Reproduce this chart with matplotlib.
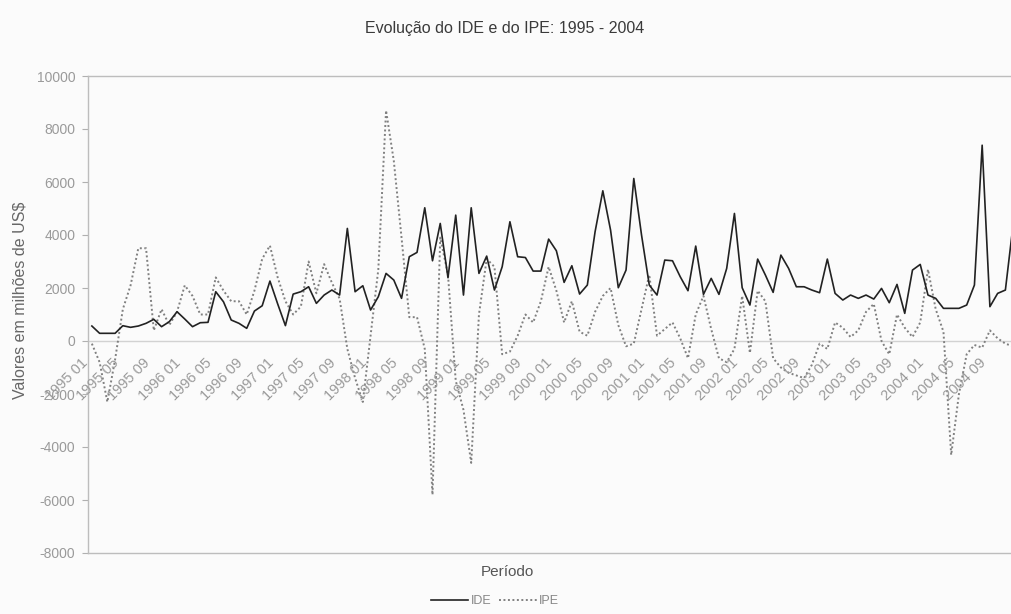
import matplotlib
matplotlib.use("Agg")
import matplotlib.pyplot as plt

years = list(range(1995, 2005))
months = ["01", "02", "03", "04", "05", "06", "07", "08", "09", "10", "11", "12"]
categories = [f"{y} {m}" for y in years for m in months]

ide = [565, 290, 290, 290, 577, 516, 565, 667, 818, 540,
       728, 1105, 829, 540, 690, 704, 1860, 1480, 792, 667,
       478, 1131, 1330, 2262, 1400, 580, 1770, 1860, 2047, 1420,
       1734, 1923, 1734, 4248, 1860, 2085, 1169, 1671, 2551, 2300,
       1609, 3180, 3343, 5027, 3028, 4436, 2388, 4750, 1734, 5027,
       2551, 3204, 1923, 2802, 4500, 3180, 3150, 2639, 2639, 3845,
       3405, 2212, 2840, 1772, 2111, 4122, 5668, 4185, 2010, 2677,
       6133, 4000, 2111, 1734, 3054, 3028, 2425, 1897, 3582, 1759,
       2363, 1759, 2739, 4813, 2010, 1357, 3091, 2488, 1835, 3242,
       2739, 2047, 2047, 1923, 1822, 3091, 1797, 1546, 1734, 1609,
       1734, 1583, 1985, 1445, 2136, 1043, 2677, 2890, 1734, 1609,
       1232, 1232, 1232, 1357, 2111, 7389, 1295, 1797, 1923, 4400]

ipe = [-100, -800, -2300, -700, 1200, 2100, 3500, 3500, 400, 1200,
       600, 1100, 2100, 1700, 1000, 1000, 2400, 1900, 1500, 1500,
       1000, 1900, 3100, 3600, 2400, 1500, 1000, 1300, 3000, 1800,
       2900, 2200, 1600, -300, -1400, -2300, 200, 2700, 8700, 6800,
       3900, 900, 900, -300, -5800, 3900, 2500, -1500, -2600, -4600,
       1000, 3100, 2800, -500, -400, 200, 1000, 700, 1500, 2800,
       1900, 700, 1500, 350, 200, 1100, 1700, 2000, 600, -200,
       -100, 1200, 2500, 200, 450, 700, 100, -650, 1000, 1700,
       450, -650, -800, -300, 1700, -450, 1900, 1500, -650, -1000,
       -1200, -1300, -1400, -900, -100, -300, 700, 500, 150, 400,
       1100, 1400, 0, -500, 1000, 500, 150, 700, 2700, 1200,
       350, -4300, -2000, -500, -150, -250, 400, 100, -100, -200]

yticks = list(range(-8000, 10001, 2000))
label_step = 4

plt.rcParams['font.family'] = ['Liberation Sans', 'DejaVu Sans']

fig = plt.figure(figsize=(10.11, 6.14), dpi=100, facecolor="#fbfbfb")
ax = fig.add_axes([88 / 1011, 61 / 614, 929 / 1011, 477 / 614])
ax.set_facecolor("#fbfbfb")

x = list(range(len(categories)))
ax.plot(x, ide, color="#222222", lw=1.2, label="IDE", zorder=3)
ax.plot(x, ipe, color="#808080", lw=1.4, linestyle=(0, (1, 1.3)), label="IPE", zorder=2)

ax.axhline(0, color="#d2d2d2", lw=1.0, zorder=1)

ax.set_xlim(-0.5, len(categories) - 0.5)
ax.set_ylim(-8000, 10000)
ax.set_yticks(yticks)
ax.set_yticklabels([str(v) for v in yticks])
ax.tick_params(axis="y", length=4, width=0.8, color="#b0b0b0", pad=5,
               labelsize=10, labelcolor="#9a9a9a")
ax.set_xticks([])

for s in ["top", "left", "bottom"]:
    ax.spines[s].set_color("#bdbdbd")
    ax.spines[s].set_linewidth(1.0)
ax.spines["right"].set_visible(False)

for i in range(0, len(categories), label_step):
    ax.annotate(categories[i], xy=(i, 0), xytext=(-4.5, -14),
                textcoords="offset points", rotation=45,
                rotation_mode="anchor", ha="right", va="center",
                fontsize=10.5, color="#9a9a9a", annotation_clip=False)

fig.text(505 / 1011, 1 - 28 / 614, "Evolução do IDE e do IPE: 1995 - 2004",
         ha="center", va="center", fontsize=11.5, color="#3a3a3a")
fig.text(20 / 1011, 1 - 300 / 614, "Valores em milhões de US$",
         ha="center", va="center", rotation=90, fontsize=11.5, color="#666666")
fig.text(507 / 1011, 1 - 572 / 614, "Período",
         ha="center", va="center", fontsize=11, color="#555555")

fig.legend(loc="center", bbox_to_anchor=(495 / 1011, 1 - 601 / 614), ncol=2,
           frameon=False, fontsize=9, handlelength=3.0, handletextpad=0.2,
           columnspacing=0.6, labelcolor="#888888")

fig.savefig("out.png", dpi=100, facecolor=fig.get_facecolor())
